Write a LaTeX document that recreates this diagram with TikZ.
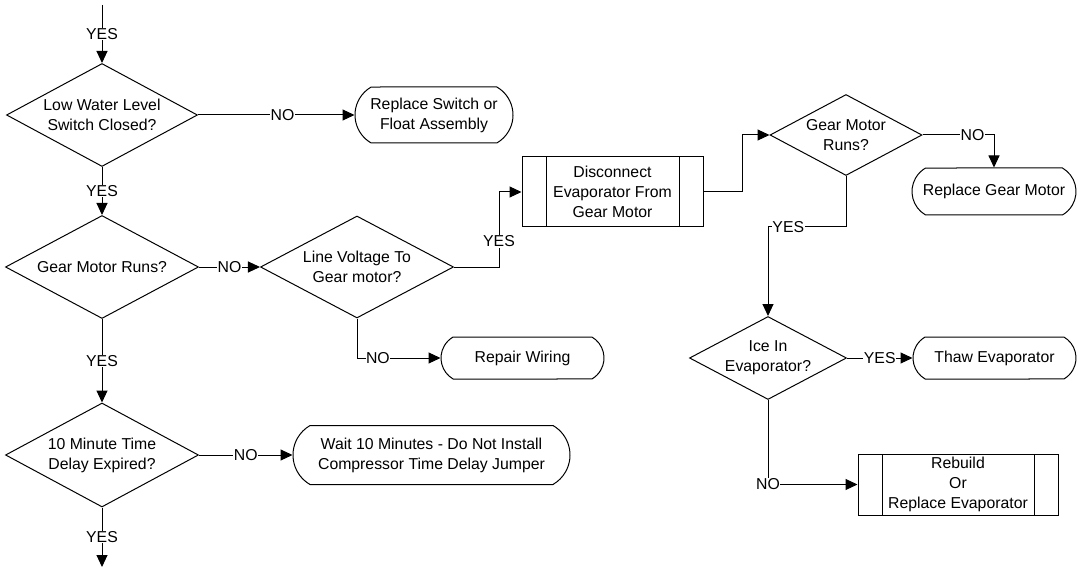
\documentclass[tikz,border=0pt]{standalone}
\usepackage{fontspec}
\setmainfont{Liberation Sans}
\usepackage{tikz}
\usetikzlibrary{shapes.geometric,shapes.misc,arrows.meta}

\begin{document}
\begin{tikzpicture}[x=1pt, y=-1pt, line width=1pt,
		font=\fontsize{15.8}{20}\selectfont,
		decision/.style args={#1x#2}{draw, diamond, inner sep=0pt, minimum width=#1pt, minimum height=#2pt},
		ask/.style={label={[align=center]center:#1}},
		terminal/.style args={#1x#2}{draw, rounded rectangle, rounded rectangle arc length=120, inner sep=0pt, align=center, minimum width=#1pt, minimum height=#2pt},
		process/.style args={#1x#2}{draw, rectangle, inner sep=0pt, align=center, minimum width=#1pt, minimum height=#2pt,
			path picture={\draw ([xshift=24pt]path picture bounding box.north west) -- ([xshift=24pt]path picture bounding box.south west)
				([xshift=-24pt]path picture bounding box.north east) -- ([xshift=-24pt]path picture bounding box.south east);}},
		flow/.style={-{Triangle[length=12pt,width=11pt]}},
		tag/.style={fill=white, inner sep=0.5pt}]
		
		\useasboundingbox (0,0) rectangle (1078,569);
		
		% 1. 左列的判断框
		\node[decision=191x103, ask={Low Water Level\\Switch Closed?}] (lowwater) at (102,115) {};
		\node[decision=193x103, ask={Gear Motor Runs?}] (gearruns) at (102,267) {};
		\node[decision=193x102, ask={Line Voltage To\\Gear motor?}] (linevolt) at (357,267) {};
		\node[decision=193x104, ask={10 Minute Time\\Delay Expired?}] (timedelay) at (102,455) {};
		
		% 2. 右侧的判断框
		\node[decision=152x81, ask={Gear Motor\\Runs?}] (gearruns2) at (846,135) {};
		\node[decision=157x83, ask={Ice In\\Evaporator?}] (icein) at (768,358) {};
		
		% 3. 终止框
		\node[terminal=158x56] (replswitch) at (434,115) {Replace Switch or\\Float Assembly};
		\node[terminal=163x42] (repairwire) at (522.5,358) {Repair Wiring};
		\node[terminal=277x59] (waitten) at (431.5,455) {Wait 10 Minutes - Do Not Install\\Compressor Time Delay Jumper};
		\node[terminal=164x47] (replmotor) at (994,191.5) {Replace Gear Motor};
		\node[terminal=163x42] (thaw) at (994.5,358) {Thaw Evaporator};
		
		% 4. 预定义过程框
		\node[process=181x70] (disconnect) at (612.5,192) {Disconnect\\Evaporator From\\Gear Motor};
		\node[process=200x61] (rebuild) at (958,484.5) {Rebuild\\Or\\Replace Evaporator};
		
		% 5. 上下两端的自由端点
		\coordinate (top) at (102,5);
		\coordinate (bottom) at (102,567);
		
		% 6. 左列连线
		\draw[flow] (top) -- node[tag] {YES} (lowwater);
		\draw[flow] (lowwater) -- node[tag, pos=0.54] {NO} (replswitch);
		\draw[flow] (lowwater) -- node[tag] {YES} (gearruns);
		\draw[flow] (gearruns) -- node[tag] {NO} (linevolt);
		\draw[flow] (gearruns) -- node[tag] {YES} (timedelay);
		\draw[flow] (timedelay) -- node[tag] {NO} (waitten);
		\draw[flow] (timedelay) -- node[tag] {YES} (bottom);
		
		% 7. 折线连线
		\draw[flow] (linevolt.east) -- ++(45,0) |- node[tag, pos=0.17] {YES} (disconnect.west);
		\draw[flow] (linevolt.south) |- node[tag, pos=0.625] {NO} (repairwire.west);
		\draw[flow] (disconnect.east) -- ++(39,0) |- (gearruns2.west);
		\draw[flow] (gearruns2.east) -| node[tag, pos=0.35] {NO} (replmotor.north);
		\draw[flow] (gearruns2.south) -- ++(0,51) -| node[tag, pos=0.37] {YES} (icein.north);
		\draw[flow] (icein) -- node[tag] {YES} (thaw);
		\draw[flow] (icein.south) |- node[tag, pos=0.5] {NO} (rebuild.west);
		
	\end{tikzpicture}
\end{document}
